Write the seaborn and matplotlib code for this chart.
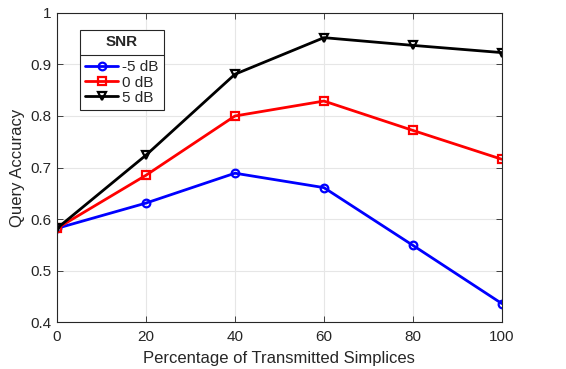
import numpy as np
import pandas as pd
import matplotlib
matplotlib.use("Agg")
import matplotlib.pyplot as plt
import seaborn as sns

x_pct = [0, 20, 40, 60, 80, 100]
acc_m5 = [0.582, 0.631, 0.689, 0.661, 0.549, 0.436]
acc_0 = [0.582, 0.685, 0.800, 0.829, 0.772, 0.716]
acc_5 = [0.582, 0.724, 0.881, 0.952, 0.937, 0.923]
series_names = ["-5 dB", "0 dB", "5 dB"]

df = pd.DataFrame({
    "x": x_pct * 3,
    "y": acc_m5 + acc_0 + acc_5,
    "SNR": [series_names[0]] * 6 + [series_names[1]] * 6 + [series_names[2]] * 6,
})

sns.set_style("whitegrid")
plt.rcParams['font.family'] = ['Liberation Sans', 'DejaVu Sans']

fig = plt.figure(figsize=(5.66, 3.69), dpi=100)
ax = fig.add_axes([0.1007, 0.127, 0.786, 0.838])

colors = {"-5 dB": "#0000ff", "0 dB": "#ff0000", "5 dB": "#000000"}
markers = {"-5 dB": "o", "0 dB": "s", "5 dB": "v"}
sns.lineplot(data=df, x="x", y="y", hue="SNR", style="SNR", palette=colors,
             markers=markers, dashes=False, ax=ax, linewidth=2,
             markersize=5.5, markerfacecolor="none", markeredgewidth=1.6)
for line in ax.get_lines():
    line.set_markeredgecolor(line.get_color())
    line.set_markerfacecolor("none")

ax.set_xlim(0, 100)
ax.set_ylim(0.4, 1.0)
ax.set_xticks([0, 20, 40, 60, 80, 100])
ax.set_yticks([0.4, 0.5, 0.6, 0.7, 0.8, 0.9, 1.0])
ax.set_yticklabels(["0.4", "0.5", "0.6", "0.7", "0.8", "0.9", "1"])
ax.grid(True, color="#e6e6e6", linewidth=0.8)
for s in ax.spines.values():
    s.set_visible(True)
    s.set_color("#262626")
    s.set_linewidth(0.8)
ax.tick_params(axis="both", direction="in", length=4, width=0.6, color="#262626",
               labelsize=11, labelcolor="#262626", top=True, right=True, bottom=True, left=True,
               pad=4)
ax.tick_params(axis="x", pad=5.5)
ax.set_xlabel("Percentage of Transmitted Simplices", fontsize=12, color="#262626", labelpad=5)
ax.set_ylabel("Query Accuracy", fontsize=12, color="#262626")

handles, labels = ax.get_legend_handles_labels()
for h in handles:
    h.set_markeredgecolor(h.get_color())
    h.set_markerfacecolor("none")
leg = ax.legend(handles, labels, title="SNR", loc="upper left",
                bbox_to_anchor=(0.052, 0.945), fontsize=11, frameon=True,
                fancybox=False, edgecolor="#262626", framealpha=1,
                handlelength=2.1, handletextpad=0.3, borderpad=0.35,
                labelspacing=0.08, borderaxespad=0)
leg.get_title().set_fontweight("bold")
leg.get_title().set_fontsize(11)
leg.get_frame().set_linewidth(0.8)
leg._legend_box.sep = 8

fig.canvas.draw()
inv = ax.transAxes.inverted()
bb = leg.get_window_extent().transformed(inv)
tb = leg.get_title().get_window_extent().transformed(inv)
t0 = leg.get_texts()[0].get_window_extent().transformed(inv)
ysep = (tb.y0 + t0.y1) / 2
ax.plot([bb.x0, bb.x1], [ysep, ysep], transform=ax.transAxes, color="#262626",
        linewidth=0.8, zorder=10, clip_on=False)

fig.savefig("out.png", dpi=100)
